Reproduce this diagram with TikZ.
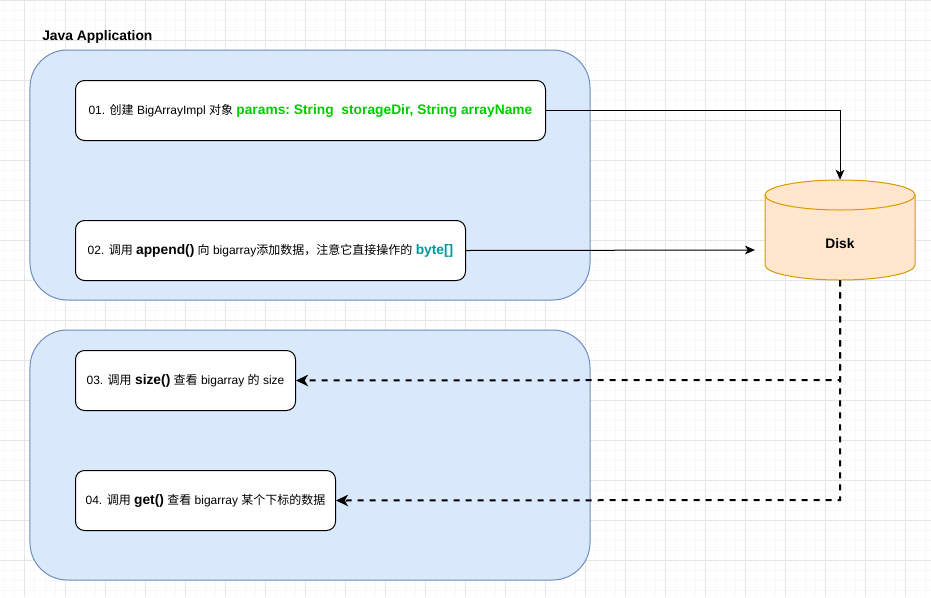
\documentclass[tikz,border=0pt]{standalone}
\usepackage{fontspec}
\setmainfont{Liberation Sans}
\newfontfamily\cjk{Noto Sans CJK SC}
\usetikzlibrary{arrows.meta}
\definecolor{majorgrid}{HTML}{E6E6E6}
\definecolor{minorgrid}{HTML}{F8F8F8}
\definecolor{groupfill}{HTML}{DAE8FC}
\definecolor{groupline}{HTML}{6C8EBF}
\definecolor{diskfill}{HTML}{FFE6CC}
\definecolor{diskline}{HTML}{D79B00}
\definecolor{paramgreen}{HTML}{00CC00}
\definecolor{byteteal}{HTML}{009999}
\newcommand{\cn}[1]{{\cjk #1}}
\newcommand{\bg}[1]{{\fontsize{10.35pt}{12pt}\selectfont\bfseries #1}}
\newcommand{\stxt}[1]{\raisebox{-0.75pt}{#1}}
\tikzset{
  x=0.75pt,y=-0.75pt,
  groupbox/.style={draw=groupline,fill=groupfill,line width=0.75pt,rounded corners=28pt},
  stepbox/.style={draw=black,fill=white,line width=0.75pt,rounded corners=6.75pt,inner sep=0pt,anchor=north west,
    minimum height=45pt,font=\fontsize{9pt}{11pt}\selectfont},
  flow/.style={draw=black,line width=0.75pt,-{Stealth[length=7.5pt,width=6.5pt,inset=2pt]}},
  readflow/.style={draw=black,line width=1.5pt,dash pattern=on 4.5pt off 4.5pt,-{Stealth[length=9pt,width=8.5pt,inset=2.5pt]}},
}
\begin{document}
\begin{tikzpicture}
\useasboundingbox (0.5,0.5) rectangle (931.5,597.5);
\fill[white] (0.5,0.5) rectangle (931.5,597.5);
\foreach \x in {5.5,15.5,...,935.5} \draw[minorgrid,line width=0.75pt] (\x,0.5) -- (\x,597.5);
\foreach \y in {0.5,10.5,...,590.5} \draw[minorgrid,line width=0.75pt] (0.5,\y) -- (931.5,\y);
\foreach \x in {25.5,65.5,...,905.5} \draw[majorgrid,line width=0.75pt] (\x,0.5) -- (\x,597.5);
\foreach \y in {0.5,40.5,...,590.5} \draw[majorgrid,line width=0.75pt] (0.5,\y) -- (931.5,\y);

\node[anchor=west,inner sep=0pt,font=\fontsize{10.4pt}{12pt}\selectfont\bfseries] (title) at (42.5,37) {Java Application};

\draw[groupbox] (30.5,50.5) rectangle (590.5,300.5);
\draw[groupbox] (30.5,330.5) rectangle (590.5,580.5);

\node[stepbox,minimum width=352.5pt] (s1) at (75.5,80.5)
  {\stxt{01. \cn{创建} BigArrayImpl \cn{对象} \textcolor{paramgreen}{\bg{params:\ String\ \ storageDir, String arrayName}}}};
\node[stepbox,minimum width=292.5pt] (s2) at (75.5,220.5)
  {\stxt{02. \cn{调用} \bg{append()} \cn{向} bigarray\cn{添加数据，注意它直接操作的} \textcolor{byteteal}{\bg{byte[]}}}};
\node[stepbox,minimum width=165pt] (s3) at (75.5,350.5)
  {\stxt{03. \cn{调用} \bg{size()} \cn{查看} bigarray \cn{的} size}};
\node[stepbox,minimum width=195pt] (s4) at (75.5,470.5)
  {\stxt{04. \cn{调用} \bg{get()} \cn{查看} bigarray \cn{某个下标的数据}}};

% Disk cylinder
\draw[draw=diskline,fill=diskfill,line width=0.75pt]
  (765.5,195.5) arc[start angle=180,end angle=0,x radius=75,y radius=-15]
  -- (915.5,265.5) arc[start angle=0,end angle=-180,x radius=75,y radius=-15] -- cycle;
\draw[draw=diskline,line width=0.75pt]
  (765.5,195.5) arc[start angle=180,end angle=360,x radius=75,y radius=-15];
\node[minimum width=112.5pt,minimum height=75pt,inner sep=0pt] (disk) at (840.5,230.5) {};
\node[inner sep=0pt,font=\fontsize{10.35pt}{12pt}\selectfont\bfseries] (disklabel) at (840.5,244) {Disk};
\coordinate (diskwest) at (755.5,250.5);

\draw[flow] (s1.east) -| (disk.north);
\draw[flow] (s2.east) -- (diskwest);
\coordinate (turn3) at (840.5,380.5);
\coordinate (turn4) at (840.5,500.5);
\draw[readflow] (disk.south) -- (turn3) -- (s3.east);
\draw[readflow] (disk.south) -- (turn4) -- (s4.east);
\end{tikzpicture}
\end{document}
